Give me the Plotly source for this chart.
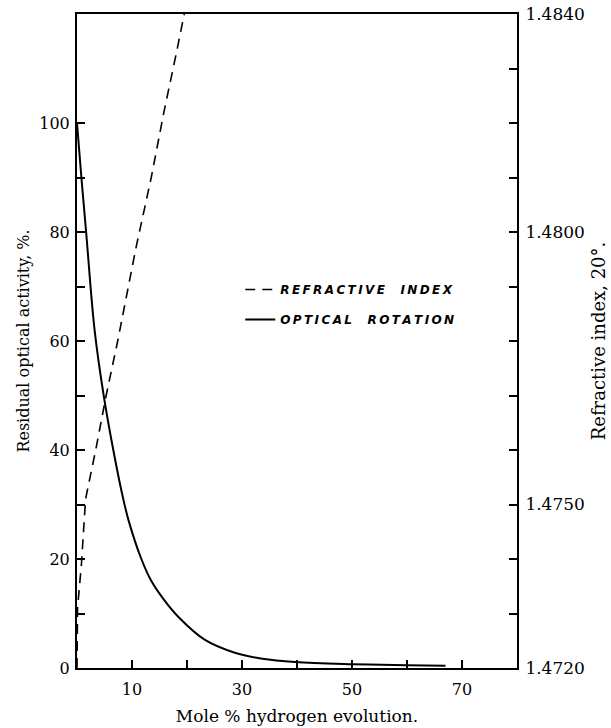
import plotly.graph_objects as go

# ---- data ----
rot_x = [0, 0.8, 1.7, 3.2, 4.9, 6.6, 8.3, 9.4, 11.7, 13.5, 15.9, 18.4, 23.2, 28.7, 33.7, 39.7, 50, 60, 67]
rot_y = [100, 90, 79.5, 62, 49.7, 40, 31.5, 27, 20, 16, 12.4, 9.4, 5.2, 2.8, 1.7, 1.1, 0.7, 0.5, 0.4]

ri_x = [0, 0.1, 0.8, 1.56, 3.4, 5.3, 7.4, 9.4, 10.7, 13.5, 15.8, 18.1, 19.5]
ri_n = [1.4720, 1.4731, 1.4739, 1.4751, 1.4760, 1.4770, 1.4780, 1.4790, 1.4797, 1.4810, 1.4822, 1.4833, 1.4840]

x_ticks = [0, 10, 20, 30, 40, 50, 60, 70]
x_ticklabels = ["", "10", "", "30", "", "50", "", "70"]
y_ticks = [0, 10, 20, 30, 40, 50, 60, 70, 80, 90, 100]
y_ticklabels = ["0", "", "20", "", "40", "", "60", "", "80", "", "100"]
n_ticks = [1.4720, 1.4730, 1.4740, 1.4750, 1.4760, 1.4770, 1.4780, 1.4790, 1.4800,
           1.4810, 1.4820, 1.4830, 1.4840]
n_ticklabels = ["1.4720", "", "", "1.4750", "", "", "", "", "1.4800", "", "", "", "1.4840"]

name_ri = "REFRACTIVE  INDEX"
name_rot = "OPTICAL  ROTATION"


def spaced(s):
    return "\u2009".join(list(s))


serif = "DejaVu Serif"

fig = go.Figure()
fig.add_trace(go.Scatter(
    x=ri_x, y=ri_n, yaxis="y2", mode="lines", name=spaced(name_ri), legendgroup="a",
    line=dict(color="black", width=1.6, dash="10px,7px"),
))
fig.add_trace(go.Scatter(
    x=rot_x, y=rot_y, mode="lines", name=spaced(name_rot), legendgroup="b",
    line=dict(color="black", width=2, shape="spline", smoothing=1.0),
))

fig.update_layout(
    width=611, height=728,
    margin=dict(l=77, r=94, t=14, b=60, autoexpand=False),
    paper_bgcolor="white", plot_bgcolor="white",
    font=dict(family=serif, size=16, color="black"),
    showlegend=True,
    legend=dict(
        x=0.371, y=0.601, xanchor="left", yanchor="top",
        bgcolor="rgba(0,0,0,0)", borderwidth=0,
        font=dict(family="DejaVu Sans", size=12, weight="bold", style="italic"),
        tracegroupgap=11, itemwidth=30,
    ),
    xaxis=dict(
        range=[0, 80], tickmode="array", tickvals=x_ticks, ticktext=x_ticklabels,
        ticks="inside", ticklen=8, tickwidth=1.5, tickcolor="black",
        showline=True, linecolor="black", linewidth=2, mirror=True,
        showgrid=False, zeroline=False, ticklabelstandoff=6, automargin=False,
        title=dict(text="Mole % hydrogen evolution.", font=dict(family=serif, size=17), standoff=12),
    ),
    yaxis=dict(
        range=[0, 120], tickmode="array", tickvals=y_ticks, ticktext=y_ticklabels,
        ticks="inside", ticklen=8, tickwidth=1.5, tickcolor="black",
        showline=True, linecolor="black", linewidth=2,
        showgrid=False, zeroline=False, ticklabelstandoff=2, automargin=False,
        title=dict(text="Residual optical activity, %.", font=dict(family=serif, size=16), standoff=6),
    ),
    yaxis2=dict(
        range=[1.4720, 1.4840], overlaying="y", side="right",
        tickmode="array", tickvals=n_ticks, ticktext=n_ticklabels,
        tickfont=dict(size=17),
        ticks="inside", ticklen=8, tickwidth=1.5, tickcolor="black",
        showline=True, linecolor="black", linewidth=2,
        showgrid=False, zeroline=False, ticklabelstandoff=3, automargin=False,
        title=dict(text="Refractive index, 20°.", font=dict(family=serif, size=18), standoff=9),
    ),
)

fig.write_html("out.html")
